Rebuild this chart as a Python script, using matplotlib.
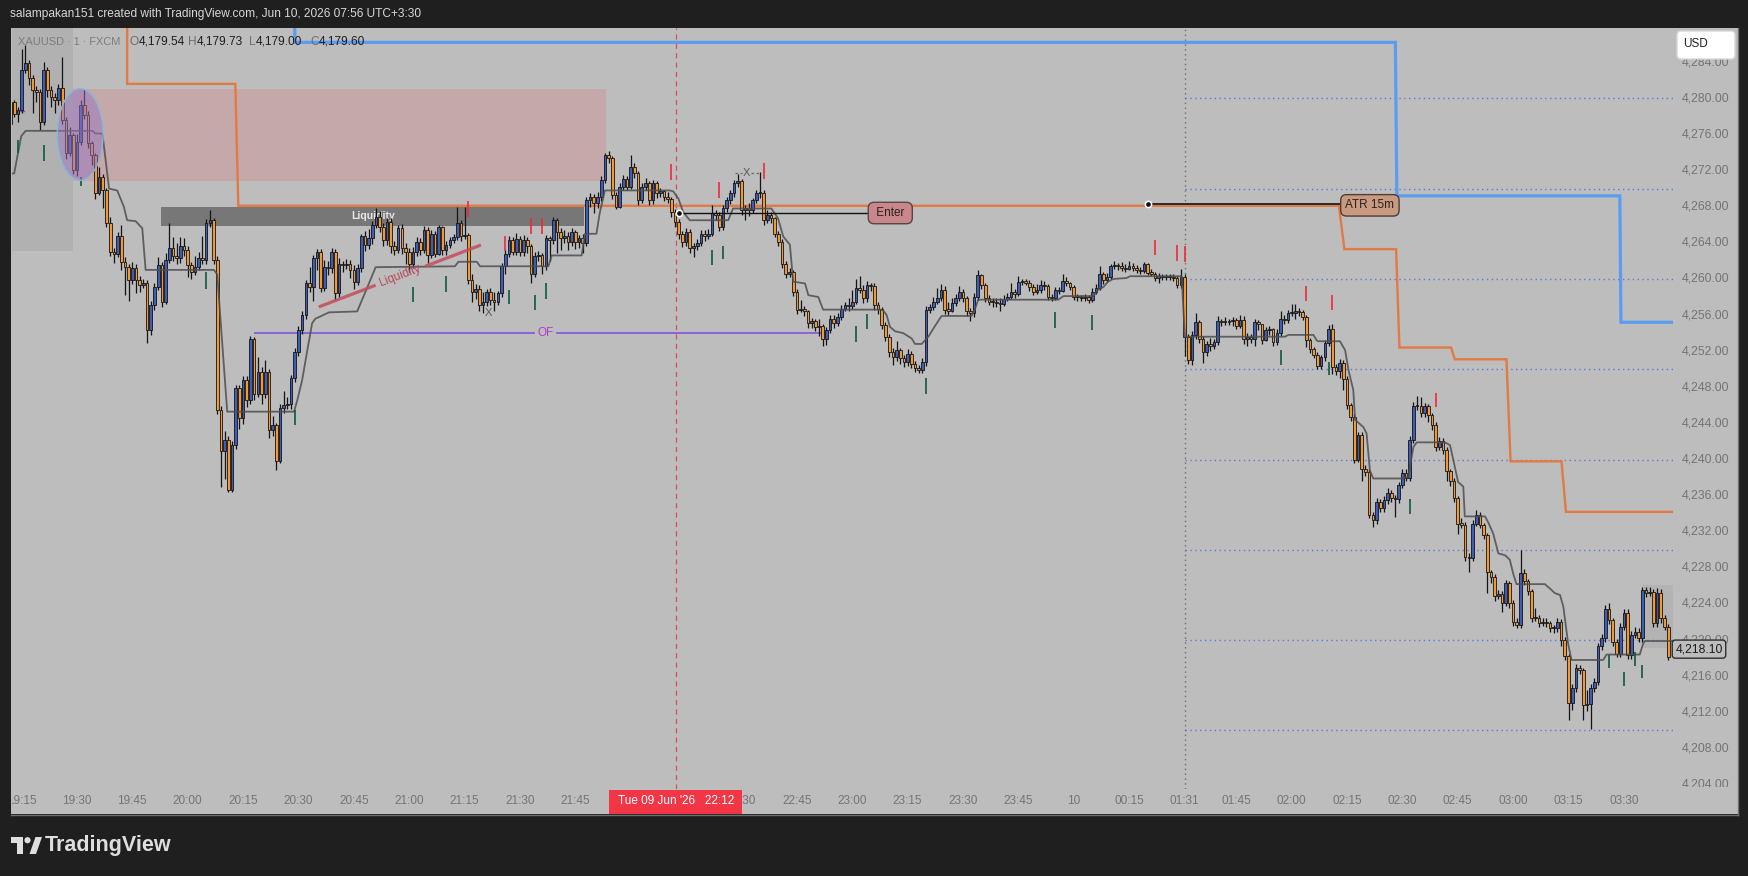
"""XAUUSD 1-minute chart (FXCM) as exported from TradingView, redrawn with matplotlib.

Bar index 0 is the 19:30 candle; the x axis is bar-indexed like TradingView,
so the 00:30-01:30 maintenance break is simply skipped.
Output: out.png (1749x876)
"""
import matplotlib

matplotlib.use("Agg")
import matplotlib.pyplot as plt
from matplotlib.lines import Line2D
from matplotlib.patches import Rectangle, Ellipse, Polygon, Circle, FancyBboxPatch

W, H, DPI = 1749, 876, 100
plt.rcParams["font.family"] = ["Liberation Sans", "DejaVu Sans"]

# ---------------------------------------------------------------- data
FIRST_BAR = -18
FIRST_OPEN = 4277.2
CLOSE = [
    4279.6, 4278.3, 4278.7, 4283.1, 4283.9, 4282.2, 4280.9, 4280.7, 4277.4, 4283.1,  # -18
    4280.9, 4280.2, 4279.8, 4281.1, 4277.6, 4273.9, 4275.9, 4272.1, 4275.2, 4279.3,  # -8
    4278.2, 4275.0, 4273.7, 4269.5, 4271.3, 4269.8, 4266.2, 4263.0, 4262.8, 4264.7,  # 2
    4261.9, 4261.3, 4259.9, 4261.2, 4259.9, 4259.3, 4259.6, 4254.3, 4257.1, 4259.1,  # 12
    4261.5, 4257.5, 4262.1, 4263.4, 4262.5, 4262.3, 4263.7, 4263.2, 4261.5, 4260.8,  # 22
    4261.3, 4262.3, 4262.1, 4266.2, 4266.5, 4262.1, 4245.5, 4240.9, 4242.2, 4236.6,  # 32
    4241.6, 4247.9, 4244.6, 4248.8, 4246.6, 4253.4, 4247.3, 4249.7, 4247.3, 4249.7,  # 42
    4243.3, 4243.8, 4239.8, 4245.7, 4246.0, 4246.1, 4249.0, 4251.9, 4254.3, 4256.0,  # 52
    4259.5, 4259.1, 4262.3, 4263.0, 4259.0, 4261.3, 4261.2, 4263.0, 4258.4, 4261.7,  # 62
    4261.5, 4261.7, 4261.0, 4259.7, 4261.2, 4264.7, 4263.8, 4264.5, 4266.0, 4266.9,  # 72
    4265.8, 4264.3, 4266.3, 4263.6, 4263.2, 4265.6, 4263.4, 4263.0, 4261.7, 4263.0,  # 82
    4264.1, 4263.2, 4265.4, 4262.6, 4265.0, 4262.8, 4265.7, 4263.2, 4263.8, 4264.3,  # 92
    4264.6, 4266.2, 4264.7, 4264.9, 4259.9, 4258.6, 4258.9, 4257.1, 4257.5, 4258.6,  # 102
    4257.7, 4257.5, 4258.4, 4261.4, 4262.8, 4264.3, 4263.0, 4264.4, 4263.0, 4264.3,  # 112
    4263.6, 4260.6, 4262.5, 4262.6, 4261.4, 4264.5, 4264.3, 4266.5, 4265.2, 4264.5,  # 122
    4264.8, 4264.1, 4265.2, 4264.1, 4264.5, 4264.0, 4268.7, 4269.1, 4268.4, 4269.1,  # 132
    4271.0, 4273.7, 4273.4, 4269.3, 4268.0, 4270.2, 4271.1, 4270.2, 4272.4, 4271.7,  # 142
    4268.7, 4270.2, 4270.6, 4268.7, 4270.6, 4269.5, 4269.7, 4269.1, 4268.9, 4267.4,  # 152
    4266.3, 4265.0, 4264.1, 4265.2, 4263.4, 4263.6, 4264.0, 4265.0, 4264.7, 4265.0,  # 162
    4267.3, 4267.1, 4265.8, 4267.8, 4268.7, 4269.5, 4270.6, 4270.8, 4267.6, 4267.8,  # 172
    4267.6, 4268.7, 4269.5, 4269.5, 4266.5, 4267.1, 4266.7, 4265.0, 4264.1, 4261.7,  # 182
    4260.6, 4260.8, 4258.6, 4256.6, 4256.7, 4256.4, 4255.1, 4255.3, 4254.7, 4254.8,  # 192
    4253.4, 4254.3, 4255.6, 4255.1, 4255.8, 4256.7, 4257.1, 4257.0, 4257.5, 4259.0,  # 202
    4258.8, 4257.9, 4259.3, 4259.2, 4257.1, 4256.7, 4254.9, 4253.6, 4251.9, 4251.4,  # 212
    4252.1, 4251.2, 4250.8, 4251.7, 4250.6, 4250.1, 4249.9, 4250.8, 4256.6, 4256.9,  # 222
    4257.5, 4257.9, 4258.8, 4256.6, 4256.5, 4257.3, 4257.9, 4258.6, 4257.9, 4256.4,  # 232
    4256.2, 4258.0, 4260.4, 4259.3, 4257.9, 4257.5, 4257.4, 4257.3, 4257.2, 4257.8,  # 242
    4258.0, 4258.6, 4258.3, 4259.7, 4259.7, 4259.6, 4259.1, 4258.6, 4258.8, 4259.3,  # 252
    4259.2, 4258.0, 4257.9, 4258.8, 4258.7, 4259.8, 4259.5, 4259.1, 4258.0, 4258.0,  # 262
    4257.9, 4258.0, 4257.7, 4258.6, 4259.0, 4260.6, 4259.9, 4260.2, 4261.4, 4261.4,  # 272
    4261.4, 4261.2, 4261.1, 4261.4, 4261.2, 4261.0, 4260.9, 4261.6, 4260.7, 4260.6,  # 282
    4260.1, 4260.3, 4260.2, 4260.2, 4260.2, 4260.1, 4259.3, 4260.2, 4253.6, 4251.0,  # 292
    4253.8, 4255.2, 4253.4, 4251.9, 4252.8, 4252.6, 4253.0, 4255.3, 4255.2, 4255.2,  # 302
    4255.3, 4255.4, 4254.8, 4255.5, 4253.3, 4253.6, 4253.3, 4255.2, 4255.0, 4253.2,  # 312
    4254.3, 4254.4, 4253.0, 4254.0, 4255.6, 4255.4, 4256.2, 4256.2, 4256.4, 4256.3,  # 322
    4255.8, 4253.2, 4252.2, 4251.6, 4250.4, 4251.3, 4252.9, 4254.5, 4250.2, 4249.8,  # 332
    4250.7, 4248.9, 4246.0, 4244.7, 4240.0, 4242.7, 4239.0, 4238.6, 4233.9, 4233.3,  # 342
    4235.3, 4234.6, 4235.5, 4236.3, 4235.7, 4235.6, 4237.2, 4238.5, 4238.0, 4242.2,  # 352
    4245.9, 4245.9, 4245.1, 4245.9, 4244.9, 4243.8, 4241.4, 4242.1, 4241.1, 4238.7,  # 362
    4237.6, 4235.7, 4232.9, 4232.8, 4229.2, 4229.1, 4232.9, 4233.9, 4232.8, 4231.6,  # 372
    4227.5, 4227.0, 4224.9, 4225.1, 4224.1, 4226.3, 4224.1, 4222.0, 4221.7, 4227.4,  # 382
    4226.5, 4225.4, 4222.4, 4222.5, 4221.9, 4222.0, 4221.9, 4221.3, 4221.3, 4222.0,  # 392
    4220.0, 4218.2, 4213.0, 4214.7, 4216.9, 4216.7, 4212.8, 4212.9, 4214.7, 4215.4,  # 402
    4219.3, 4220.2, 4223.5, 4222.2, 4219.8, 4218.5, 4221.5, 4223.0, 4218.3, 4220.6,  # 412
    4220.9, 4220.2, 4225.5, 4225.2, 4225.3, 4221.9, 4225.2, 4222.4, 4221.5, 4218.1,  # 422
]
HIGH = [
    4280.4, 4279.8, 4279.0, 4285.5, 4285.9, 4284.3, 4282.6, 4281.4, 4281.0, 4284.0,
    4283.5, 4281.4, 4280.6, 4281.6, 4284.6, 4277.9, 4276.8, 4276.2, 4276.0, 4279.8,
    4281.0, 4278.6, 4275.3, 4273.9, 4272.4, 4271.6, 4270.1, 4266.9, 4263.4, 4265.2,
    4266.0, 4262.4, 4261.7, 4261.9, 4261.6, 4260.3, 4260.0, 4259.9, 4257.6, 4259.5,
    4262.4, 4261.9, 4262.9, 4266.2, 4264.6, 4264.0, 4264.6, 4264.5, 4263.6, 4261.9,
    4262.5, 4263.0, 4264.7, 4266.6, 4267.6, 4266.8, 4262.5, 4245.9, 4243.2, 4242.6,
    4242.0, 4248.3, 4248.2, 4249.2, 4249.3, 4253.7, 4253.6, 4251.4, 4250.2, 4251.0,
    4250.0, 4244.8, 4244.0, 4246.2, 4247.6, 4246.9, 4249.4, 4252.3, 4254.8, 4256.5,
    4259.9, 4261.3, 4262.7, 4263.3, 4263.3, 4262.1, 4262.0, 4263.4, 4263.3, 4262.3,
    4262.0, 4262.2, 4262.1, 4261.5, 4261.6, 4265.0, 4265.3, 4265.5, 4266.4, 4267.8,
    4267.5, 4266.2, 4266.7, 4266.8, 4264.2, 4266.0, 4266.1, 4264.0, 4263.4, 4263.5,
    4264.6, 4264.5, 4265.9, 4265.8, 4265.4, 4265.3, 4266.0, 4265.9, 4264.2, 4264.6,
    4265.0, 4268.0, 4266.5, 4268.0, 4265.1, 4260.5, 4259.4, 4259.3, 4258.6, 4258.9,
    4259.0, 4258.5, 4258.7, 4261.8, 4263.2, 4264.7, 4264.6, 4265.1, 4264.8, 4264.9,
    4264.6, 4263.9, 4263.0, 4263.1, 4262.9, 4264.9, 4264.8, 4266.9, 4266.8, 4265.6,
    4265.4, 4265.2, 4265.6, 4265.4, 4264.9, 4265.0, 4269.1, 4269.5, 4269.4, 4269.6,
    4271.4, 4274.0, 4274.2, 4273.6, 4269.6, 4270.6, 4271.5, 4271.4, 4273.7, 4272.8,
    4272.0, 4270.6, 4271.2, 4270.9, 4271.0, 4270.9, 4270.1, 4269.9, 4269.6, 4269.1,
    4267.7, 4266.6, 4265.3, 4265.6, 4265.5, 4264.0, 4264.4, 4265.4, 4265.4, 4265.5,
    4268.2, 4267.6, 4267.4, 4268.2, 4269.1, 4269.9, 4271.0, 4271.6, 4271.1, 4268.2,
    4268.4, 4269.0, 4269.9, 4271.8, 4269.9, 4267.6, 4267.4, 4266.9, 4265.3, 4264.4,
    4262.0, 4261.2, 4261.0, 4258.9, 4257.7, 4257.0, 4256.6, 4255.7, 4255.6, 4255.6,
    4255.0, 4254.7, 4256.0, 4256.0, 4256.2, 4257.1, 4257.5, 4257.9, 4258.8, 4260.0,
    4260.3, 4259.3, 4259.8, 4259.6, 4259.5, 4257.4, 4256.9, 4255.2, 4253.9, 4252.4,
    4253.1, 4252.4, 4251.6, 4252.2, 4252.0, 4250.9, 4250.5, 4251.2, 4257.0, 4257.2,
    4258.0, 4259.0, 4259.4, 4259.2, 4257.4, 4257.9, 4258.3, 4259.2, 4258.9, 4258.1,
    4256.8, 4258.4, 4261.0, 4260.6, 4259.6, 4258.2, 4257.9, 4257.9, 4257.9, 4258.2,
    4258.4, 4259.5, 4258.9, 4260.3, 4260.0, 4260.0, 4259.9, 4259.4, 4259.4, 4259.9,
    4259.8, 4259.4, 4258.3, 4259.1, 4259.1, 4260.5, 4260.2, 4259.7, 4259.3, 4258.3,
    4258.2, 4258.3, 4258.2, 4259.0, 4259.4, 4261.4, 4260.8, 4260.7, 4261.7, 4262.0,
    4261.8, 4261.9, 4261.6, 4262.0, 4261.8, 4261.5, 4261.3, 4261.9, 4261.8, 4261.1,
    4260.8, 4260.7, 4260.6, 4260.6, 4260.5, 4260.5, 4260.3, 4261.1, 4260.5, 4253.9,
    4254.2, 4256.2, 4255.5, 4253.7, 4253.1, 4253.5, 4253.4, 4255.9, 4255.6, 4255.8,
    4255.6, 4255.8, 4255.7, 4256.0, 4255.9, 4254.0, 4253.9, 4255.6, 4255.5, 4254.7,
    4254.7, 4254.8, 4254.6, 4254.4, 4256.4, 4256.0, 4256.6, 4257.2, 4257.2, 4256.8,
    4256.6, 4256.0, 4253.5, 4252.5, 4251.9, 4251.6, 4253.2, 4254.9, 4255.0, 4250.6,
    4251.1, 4251.0, 4249.2, 4246.3, 4245.0, 4243.1, 4243.0, 4239.4, 4238.9, 4234.2,
    4235.7, 4235.6, 4236.0, 4236.8, 4236.6, 4236.1, 4237.5, 4238.9, 4238.9, 4242.6,
    4246.4, 4247.0, 4246.9, 4246.3, 4246.2, 4245.2, 4244.1, 4242.5, 4242.4, 4241.4,
    4239.0, 4237.9, 4236.0, 4233.5, 4233.1, 4229.6, 4233.3, 4234.4, 4234.2, 4233.0,
    4231.9, 4227.8, 4227.3, 4225.5, 4225.4, 4226.7, 4226.6, 4224.4, 4222.4, 4230.0,
    4227.9, 4226.8, 4225.7, 4223.6, 4222.8, 4222.5, 4222.4, 4222.1, 4221.7, 4222.4,
    4222.3, 4220.3, 4218.5, 4215.1, 4217.3, 4217.2, 4216.9, 4214.5, 4215.1, 4215.8,
    4219.7, 4220.7, 4223.9, 4224.1, 4222.5, 4220.1, 4221.9, 4223.5, 4223.4, 4221.0,
    4221.4, 4221.3, 4225.9, 4225.9, 4225.9, 4225.7, 4225.8, 4225.7, 4222.8, 4221.8,
]
LOW = [
    4276.8, 4277.9, 4277.4, 4278.4, 4282.8, 4281.5, 4278.4, 4279.6, 4276.5, 4277.0,
    4280.2, 4279.0, 4278.4, 4279.3, 4277.2, 4273.3, 4273.6, 4271.6, 4271.4, 4274.8,
    4277.7, 4274.5, 4272.6, 4268.9, 4269.3, 4267.8, 4265.8, 4262.5, 4261.8, 4262.4,
    4261.0, 4258.2, 4257.6, 4259.4, 4258.4, 4258.6, 4259.0, 4252.9, 4253.8, 4256.6,
    4258.8, 4256.9, 4257.2, 4261.8, 4262.0, 4261.6, 4261.8, 4262.5, 4260.2, 4260.0,
    4260.4, 4261.0, 4261.7, 4261.6, 4265.8, 4261.6, 4245.0, 4237.0, 4237.8, 4236.4,
    4236.4, 4241.2, 4243.4, 4243.9, 4245.8, 4246.2, 4246.6, 4246.9, 4246.2, 4246.8,
    4242.4, 4242.6, 4238.8, 4239.6, 4245.2, 4245.6, 4245.6, 4248.6, 4251.5, 4253.9,
    4255.6, 4258.5, 4257.6, 4261.0, 4258.5, 4258.7, 4260.4, 4260.7, 4257.7, 4258.0,
    4260.8, 4261.1, 4260.1, 4258.9, 4259.3, 4260.8, 4263.1, 4263.3, 4263.9, 4265.6,
    4265.2, 4263.6, 4263.8, 4262.9, 4262.7, 4262.9, 4262.8, 4261.7, 4260.8, 4261.2,
    4262.5, 4262.6, 4262.9, 4261.8, 4262.3, 4262.4, 4262.6, 4262.6, 4262.7, 4263.4,
    4264.0, 4264.3, 4264.2, 4264.4, 4259.4, 4257.5, 4257.8, 4256.4, 4256.2, 4257.0,
    4257.1, 4256.4, 4257.1, 4258.0, 4260.6, 4262.4, 4262.6, 4262.7, 4262.5, 4262.5,
    4262.9, 4259.5, 4260.2, 4262.0, 4260.5, 4261.0, 4262.0, 4263.9, 4262.9, 4263.2,
    4264.0, 4263.2, 4263.7, 4263.3, 4263.4, 4262.9, 4263.7, 4268.0, 4267.3, 4267.8,
    4268.6, 4270.6, 4272.8, 4268.8, 4267.7, 4267.8, 4269.8, 4269.8, 4270.0, 4271.2,
    4268.2, 4268.4, 4269.8, 4268.2, 4268.3, 4269.0, 4269.1, 4268.6, 4268.4, 4266.9,
    4265.8, 4264.4, 4263.5, 4263.6, 4262.9, 4262.4, 4263.2, 4263.6, 4264.2, 4264.4,
    4264.7, 4266.5, 4265.3, 4265.4, 4267.4, 4268.3, 4269.1, 4270.2, 4267.1, 4266.5,
    4267.0, 4267.3, 4268.4, 4269.0, 4266.0, 4266.2, 4266.2, 4264.6, 4263.6, 4261.2,
    4260.1, 4260.2, 4258.1, 4256.1, 4256.3, 4255.9, 4254.6, 4254.6, 4254.2, 4253.7,
    4252.6, 4252.7, 4254.0, 4254.6, 4254.8, 4255.5, 4256.4, 4256.5, 4256.7, 4257.2,
    4258.4, 4257.3, 4257.4, 4258.7, 4256.6, 4256.1, 4254.4, 4253.1, 4251.4, 4250.5,
    4250.9, 4250.6, 4250.2, 4250.4, 4250.1, 4249.7, 4249.6, 4249.6, 4250.4, 4256.2,
    4256.6, 4257.2, 4257.6, 4256.1, 4256.0, 4256.3, 4257.0, 4257.6, 4257.4, 4255.9,
    4255.3, 4255.8, 4257.7, 4258.9, 4257.4, 4257.1, 4256.9, 4256.9, 4256.5, 4257.0,
    4257.6, 4257.8, 4257.9, 4258.1, 4259.3, 4259.3, 4258.7, 4258.2, 4258.3, 4258.4,
    4258.8, 4257.7, 4257.6, 4257.7, 4258.3, 4258.5, 4259.2, 4258.8, 4257.7, 4257.6,
    4257.6, 4257.6, 4257.3, 4257.5, 4258.3, 4258.8, 4259.4, 4259.7, 4260.0, 4261.1,
    4261.0, 4260.9, 4260.8, 4261.0, 4260.9, 4260.7, 4260.6, 4260.7, 4260.4, 4260.3,
    4259.8, 4259.6, 4259.9, 4259.9, 4259.9, 4259.8, 4259.0, 4259.0, 4251.5, 4250.6,
    4250.5, 4253.4, 4252.9, 4250.7, 4251.5, 4252.0, 4252.2, 4252.7, 4254.8, 4254.9,
    4254.9, 4254.8, 4254.4, 4254.6, 4252.8, 4252.6, 4252.9, 4252.6, 4254.3, 4252.8,
    4253.1, 4253.8, 4252.6, 4252.7, 4253.7, 4255.0, 4255.1, 4255.9, 4255.6, 4255.9,
    4255.4, 4252.5, 4251.8, 4251.2, 4250.0, 4250.0, 4250.9, 4252.6, 4249.5, 4249.4,
    4249.0, 4247.7, 4245.6, 4244.3, 4239.6, 4239.7, 4237.6, 4238.2, 4233.5, 4232.5,
    4232.9, 4234.2, 4234.2, 4235.1, 4235.3, 4233.6, 4235.2, 4236.8, 4237.6, 4237.6,
    4241.8, 4245.5, 4244.7, 4244.7, 4244.1, 4243.3, 4240.9, 4241.0, 4240.6, 4237.6,
    4237.1, 4235.3, 4231.8, 4232.4, 4228.8, 4227.5, 4228.8, 4232.6, 4232.4, 4231.2,
    4225.2, 4226.3, 4224.3, 4224.6, 4223.1, 4223.8, 4223.6, 4221.6, 4221.3, 4221.3,
    4226.1, 4225.0, 4222.0, 4222.1, 4221.5, 4221.6, 4221.5, 4220.9, 4220.8, 4220.9,
    4219.4, 4217.8, 4211.1, 4212.3, 4214.3, 4216.3, 4211.2, 4212.2, 4210.2, 4214.3,
    4215.0, 4218.9, 4219.8, 4221.8, 4219.4, 4218.1, 4218.1, 4221.1, 4217.9, 4217.9,
    4220.2, 4219.8, 4219.8, 4224.8, 4224.9, 4221.5, 4221.5, 4221.9, 4221.1, 4217.8,
]

# trailing stop line (grey), vertices as (bar, price)
TRAIL_X = [-18.2, -17.0, -15.1, -13.9, 4.2, 5.0, 6.9, 8.7, 10.9, 12.7, 13.6, 15.9, 17.7, 18.6,
           37.1, 38.0, 40.7, 58.8, 59.7, 61.0, 62.4, 63.7, 64.6, 68.3, 75.9, 79.5, 80.9,
           102.4, 103.3, 108.3, 109.2, 127.7, 128.6, 136.7, 137.6, 140.7, 141.6, 143.0,
           160.6, 161.5, 162.9, 164.2, 166.0, 176.4, 177.7, 188.1, 189.9, 191.3, 193.1,
           194.0, 197.2, 198.1, 200.8, 202.1, 217.5, 218.4, 219.3, 220.2, 221.6, 223.8,
           226.1, 227.0, 228.8, 230.6, 232.9, 234.2, 242.3, 243.2, 244.1, 265.8, 267.2,
           275.3, 276.6, 278.0, 279.3, 280.7, 284.3, 285.2, 299.2, 300.1, 327.2, 328.1,
           334.9, 335.8, 336.2, 342.1, 343.5, 344.4, 345.7, 346.2, 348.4, 349.3, 350.2,
           351.1, 358.8, 360.6, 362.0, 362.9, 370.5, 371.9, 373.2, 374.1, 375.5, 375.9,
           381.4, 382.3, 383.6, 385.0, 386.8, 388.1, 389.0, 389.9, 397.6, 399.0, 400.3,
           401.7, 402.6, 403.9, 404.8, 413.4, 414.3, 423.3, 424.2, 424.7, 432.3]
TRAIL_Y = [4271.6, 4271.7, 4275.8, 4276.4, 4276.4, 4276.1, 4276.1, 4270.0, 4269.8, 4268.0,
           4266.5, 4266.4, 4265.6, 4261.0, 4261.0, 4260.5, 4245.3, 4245.3, 4246.6, 4248.8,
           4252.1, 4255.1, 4255.6, 4256.3, 4256.4, 4259.9, 4261.3,
           4261.4, 4261.9, 4261.9, 4261.4, 4261.4, 4262.6, 4262.6, 4265.0, 4265.0, 4267.3,
           4269.8, 4269.8, 4269.7, 4268.9, 4267.4, 4266.5, 4266.5, 4267.8, 4267.8, 4266.7,
           4264.7, 4263.8, 4259.7, 4259.5, 4258.2, 4258.0, 4256.6, 4256.6, 4256.5, 4256.0,
           4254.7, 4254.2, 4254.0, 4253.4, 4252.8, 4252.8, 4253.6, 4255.1, 4255.9, 4255.9,
           4256.6, 4257.7, 4257.7, 4258.1, 4258.1, 4258.8, 4259.1, 4259.7, 4260.0, 4260.1,
           4260.3, 4260.3, 4253.6, 4253.6, 4253.8, 4253.8, 4253.2, 4253.1, 4253.1, 4252.1,
           4249.9, 4247.7, 4244.4, 4243.6, 4242.9, 4238.8, 4237.9, 4237.9, 4238.1, 4241.4,
           4241.9, 4241.9, 4241.6, 4239.2, 4237.5, 4237.0, 4233.7, 4233.7, 4233.0, 4231.8,
           4229.6, 4229.4, 4228.9, 4227.4, 4226.2, 4226.2, 4225.7, 4225.2, 4225.0, 4223.7,
           4219.6, 4217.8, 4217.8, 4218.4, 4218.4, 4219.6, 4219.9, 4219.9]

# orange (stop) and blue (target) step lines
ORANGE_X = [13.6, 13.6, 42.9, 43.7, 341.8, 343.3, 357.3, 358.2, 372.2, 373.2, 387.2, 388.3,
            402.1, 403.3, 432.3]
ORANGE_Y = [4288.5, 4281.6, 4281.6, 4268.1, 4268.1, 4263.3, 4263.3, 4252.4, 4252.4, 4251.1,
            4251.1, 4239.8, 4239.8, 4234.2, 4234.2]
BLUE_X = [59.0, 59.0, 357.1, 357.5, 417.9, 418.2, 432.3]
BLUE_Y = [4288.5, 4286.2, 4286.2, 4269.2, 4269.2, 4255.2, 4255.2]

# signal ticks: (bar, bottom price, top price)
RED_TICKS = [(106, 4266.9, 4268.6), (116, 4263.1, 4264.7), (123, 4265.0, 4266.7),
             (126, 4265.0, 4266.7), (161, 4271.0, 4272.7), (174, 4269.0, 4270.7),
             (186, 4271.1, 4272.8), (292, 4262.7, 4264.3), (298, 4262.0, 4263.8),
             (300, 4261.9, 4263.6), (333, 4257.6, 4259.2), (340, 4256.6, 4258.2),
             (368, 4245.8, 4247.4)]
GREEN_TICKS = [(-16, 4273.9, 4275.4), (-9, 4273.1, 4274.8), (1, 4270.3, 4271.3),
               (35, 4258.9, 4260.8), (59, 4243.8, 4245.5), (91, 4257.5, 4259.1),
               (100, 4258.6, 4260.3), (117, 4257.2, 4258.8), (124, 4256.6, 4258.2),
               (127, 4257.8, 4259.5), (172, 4261.5, 4263.2), (175, 4262.2, 4263.7),
               (211, 4253.0, 4254.8), (214, 4254.4, 4256.1), (230, 4247.3, 4249.0),
               (265, 4254.6, 4256.3), (275, 4254.3, 4256.0), (326, 4250.5, 4252.1),
               (339, 4249.4, 4250.8), (361, 4234.0, 4235.6), (415, 4216.9, 4218.4),
               (419, 4214.9, 4216.5), (422, 4217.1, 4218.7), (424, 4215.8, 4217.2)]

# zones / drawings
SESSION_BOX = (-18.2, -1.1, 4263.1)          # bar from, bar to, price bottom (to top)
SUPPLY_ZONE = (-1.2, 143.3, 4270.9, 4281.0)  # bar from, bar to, price low, price high
LIQ_BOX = (22.9, 137.4, 4265.9, 4268.0)
LATE_BOX = (423.8, 432.3, 4219.1, 4226.1)
ELLIPSE = (0.87, 4276.0, 12.4, 10.15)        # centre bar, centre price, width, height
LIQ_LINE = [(65.5, 4256.9), (109.4, 4263.75)]
LIQ_GAP = (80.9, 94.3)
OF_LEVEL, OF_FROM, OF_TO, OF_GAP = 4254.0, 48.3, 203.5, (123.9, 130.1)
ENTER_FROM, ENTER_TO, ENTER_PRICE, ENTER_LABEL_BAR = 163.0, 214.2, 4267.3, 220.3
ATR_FROM, ATR_TO, ATR_PRICE, ATR_LABEL_BAR = 290.2, 342.2, 4268.3, 350.2
X_MARKS = [(111.4, 4256.2), (181.4, 4271.7)]
CROSS_BAR = 162.2
SPLIT_BAR = 300
BLUE_LEVELS = [4280, 4270, 4260, 4250, 4240, 4230, 4220, 4210]

PRICE_TICKS = list(range(4284, 4203, -4))
TIME_TICKS = [-15, 0, 15, 30, 45, 60, 75, 90, 105, 120, 135, 180, 195, 210, 225,
              240, 255, 270, 285, 300, 314, 329, 344, 359, 374, 389, 404, 419]
TIME_LABELS = ["19:15", "19:30", "19:45", "20:00", "20:15", "20:30", "20:45", "21:00",
               "21:15", "21:30", "21:45", "22:30", "22:45", "23:00",
               "23:15", "23:30", "23:45", "10", "00:15", "01:31", "01:45", "02:00",
               "02:15", "02:30", "02:45", "03:00", "03:15", "03:30"]
CROSS_LABEL = "Tue 09 Jun '26   22:12"
HEADER = "salampakan151 created with TradingView.com, Jun 10, 2026 07:56 UTC+3:30"
LEGEND = [("O", "4,179.54"), ("H", "4,179.73"), ("L", "4,179.00"), ("C", "4,179.60")]

# ---------------------------------------------------------------- style
OUTER = "#1f1f1f"
BG = "#bdbdbd"
UP = "#3d5db6"
DOWN = "#f3992f"
WICK = "#141414"
AXIS_TXT = "#747474"

# pixel frame of the chart (from the top-left corner of the image)
PANE_L, PANE_R, PANE_T, PANE_B = 12, 1673, 28, 789
SCALE_R, TIME_B = 1738, 814
PX_PER_BAR = 3.692


def fx(x):
    return x / W


def fy(y):
    return 1 - y / H


def main() -> None:
    fig = plt.figure(figsize=(W / DPI, H / DPI), dpi=DPI, facecolor=OUTER)
    fig.add_artist(Rectangle((fx(PANE_L - 1), fy(TIME_B)), fx(SCALE_R) - fx(PANE_L - 1),
                             fy(PANE_T) - fy(TIME_B), transform=fig.transFigure, fc=BG,
                             ec="none", zorder=0))
    fig.add_artist(Line2D([fx(SCALE_R)] * 2, [fy(PANE_T), fy(TIME_B + 1)],
                          transform=fig.transFigure, color="#707070", lw=1))
    fig.add_artist(Line2D([fx(PANE_L - 1), fx(SCALE_R)], [fy(TIME_B + 1)] * 2,
                          transform=fig.transFigure, color="#707070", lw=1))

    # price pane: x = bar index (3.692 px per bar), y = price (9.03 px per dollar)
    ax = fig.add_axes([fx(PANE_L), fy(PANE_B), fx(PANE_R) - fx(PANE_L),
                       fy(PANE_T) - fy(PANE_B)])
    ax.set_xlim(432.3 - (PANE_R - PANE_L) / PX_PER_BAR, 432.3)
    ax.set_ylim(4203.51, 4287.79)
    ax.set_axis_off()

    # zones
    b0, b1, pb = SESSION_BOX
    ax.add_patch(Rectangle((b0, pb), b1 - b0, 30, fc="#b1b1b1", ec="none", zorder=1))
    b0, b1, p0, p1 = SUPPLY_ZONE
    ax.add_patch(Rectangle((b0, p0), b1 - b0, p1 - p0, fc="#c5a8a9", ec="none", zorder=1))
    b0, b1, p0, p1 = LATE_BOX
    ax.add_patch(Rectangle((b0, p0), b1 - b0, p1 - p0, fc="#b3b3b3", ec="none", zorder=1))
    b0, b1, p0, p1 = LIQ_BOX
    ax.add_patch(Rectangle((b0, p0), b1 - b0, p1 - p0, fc="#777777", ec="none", zorder=2))
    ax.text((b0 + b1) / 2, (p0 + p1) / 2, "Liquidity", color="#e8e8e8", fontsize=7.5,
            fontweight="bold", ha="center", va="center", zorder=2.1)

    # guide lines
    ax.axvline(SPLIT_BAR, color="#6c6c6c", lw=1, ls=(0, (1, 2.5)), zorder=2)
    for lv in BLUE_LEVELS:
        ax.plot([SPLIT_BAR, 432.3], [lv, lv], color="#5a78dc", lw=1, ls=(0, (1, 2.5)),
                zorder=2)
    ax.axvline(CROSS_BAR, color="#d84a5c", lw=0.9, ls=(0, (4, 3.5)), zorder=2)

    ax.plot(ORANGE_X, ORANGE_Y, color="#e27a44", lw=1.7, zorder=3, solid_joinstyle="miter")
    ax.plot(BLUE_X, BLUE_Y, color="#5b9bf0", lw=2.3, zorder=3, solid_joinstyle="miter")
    ax.plot([-17.5, -14.3], [4278.6, 4278.6], color="#b040c0", lw=1, zorder=3)

    # OF level
    ax.plot([OF_FROM, OF_GAP[0]], [OF_LEVEL] * 2, color="#8a62d6", lw=1.4, zorder=3)
    ax.plot([OF_GAP[1], OF_TO], [OF_LEVEL] * 2, color="#8a62d6", lw=1.4, zorder=3)
    ax.text(sum(OF_GAP) / 2, OF_LEVEL, "OF", color="#b03cc8", fontsize=8.5, ha="center",
            va="center", zorder=3)

    # candles
    n = len(CLOSE)
    xs = list(range(FIRST_BAR, FIRST_BAR + n))
    opens = [FIRST_OPEN] + CLOSE[:-1]
    highs = [max(h, o, c) for h, o, c in zip(HIGH, opens, CLOSE)]
    lows = [min(lo, o, c) for lo, o, c in zip(LOW, opens, CLOSE)]
    bottoms = [min(o, c) for o, c in zip(opens, CLOSE)]
    heights = [max(abs(c - o), 0.12) for o, c in zip(opens, CLOSE)]
    cols = [UP if c >= o else DOWN for o, c in zip(opens, CLOSE)]
    ax.vlines(xs, lows, highs, color=WICK, lw=0.9, zorder=4)
    ax.bar(xs, heights, width=0.72, bottom=bottoms, color=cols, edgecolor=WICK,
           linewidth=0.6, zorder=4.1)

    ax.plot(TRAIL_X, TRAIL_Y, color="#4e4e4e", lw=1.3, alpha=0.85, zorder=5)

    ax.vlines([t[0] for t in RED_TICKS], [t[1] for t in RED_TICKS], [t[2] for t in RED_TICKS],
              color="#f0283c", lw=1.2, zorder=5)
    ax.vlines([t[0] for t in GREEN_TICKS], [t[1] for t in GREEN_TICKS],
              [t[2] for t in GREEN_TICKS], color="#0d5a3c", lw=1.2, zorder=5)

    # drawings
    (lx0, ly0), (lx1, ly1) = LIQ_LINE
    slope = (ly1 - ly0) / (lx1 - lx0)
    for a, b in [(lx0, LIQ_GAP[0]), (LIQ_GAP[1], lx1)]:
        ax.plot([a, b], [ly0 + slope * (a - lx0), ly0 + slope * (b - lx0)], color="#c44c5c",
                lw=2.3, alpha=0.85, solid_capstyle="butt", zorder=5.5)
    mid = sum(LIQ_GAP) / 2
    ax.text(mid, ly0 + slope * (mid - lx0), "Liquidity", color="#b8485a", fontsize=8.5,
            rotation=20.9, rotation_mode="anchor", ha="center", va="center", zorder=5.5)

    ax.add_patch(Ellipse(ELLIPSE[:2], ELLIPSE[2], ELLIPSE[3], fc="#9a76c2", alpha=0.5,
                         ec="none", zorder=6))
    ax.add_patch(Ellipse(ELLIPSE[:2], ELLIPSE[2], ELLIPSE[3], fc="none", ec="#86b8dc",
                         lw=1, zorder=6))

    for bx, py in X_MARKS:
        ax.text(bx, py, "X", color="#585858", fontsize=8, ha="center", va="center", zorder=6)
    bx, py = X_MARKS[1]
    ax.plot([bx - 3.2, bx - 1.2], [py, py], color="#666666", lw=0.9, ls=(0, (2, 2)), zorder=6)
    ax.plot([bx + 1.2, bx + 3.6], [py, py], color="#666666", lw=0.9, ls=(0, (2, 2)), zorder=6)

    ax.plot([ENTER_FROM, ENTER_TO], [ENTER_PRICE] * 2, color="#111111", lw=1, zorder=6)
    ax.plot([ATR_FROM, ATR_TO], [ATR_PRICE] * 2, color="#2a2a2a", lw=1.4, zorder=6)
    ax.plot([ENTER_FROM, ATR_FROM], [ENTER_PRICE, ATR_PRICE], "o", ms=4.5, mfc="#111111",
            mec="white", mew=1.1, zorder=7)
    ax.text(ENTER_LABEL_BAR, ENTER_PRICE, " Enter ", fontsize=8.5, color="#2a2020",
            ha="center", va="center", zorder=7,
            bbox=dict(boxstyle="round,pad=0.4,rounding_size=0.5", fc="#c9878c",
                      ec="#5a4444", lw=1))
    ax.text(ATR_LABEL_BAR, ATR_PRICE - 0.15, "ATR 15m", fontsize=8.5, color="#2a2020",
            ha="center", va="center", zorder=7,
            bbox=dict(boxstyle="round,pad=0.4,rounding_size=0.5", fc="#c99a80",
                      ec="#4c3e36", lw=1))

    # price scale (clipped just above the time scale, like the original)
    pax = fig.add_axes([fx(PANE_R), fy(787), fx(SCALE_R) - fx(PANE_R),
                        fy(PANE_T) - fy(787)])
    pax.set_xlim(0, SCALE_R - PANE_R)
    pax.set_ylim(4203.73, 4287.79)
    pax.set_axis_off()
    for p in PRICE_TICKS:
        pax.text(9, p, f"{p:,.2f}", color=AXIS_TXT, fontsize=8.8, ha="left", va="center",
                 clip_on=True)
    pax.text(2.3, CLOSE[-1] + 0.9, f"{CLOSE[-1]:,.2f}", color="#1c1c1c", fontsize=8.8,
             ha="left", va="center", zorder=5,
             bbox=dict(boxstyle="round,pad=0.25,rounding_size=0.25", fc=BG, ec="#2e2e2e",
                       lw=1))

    # time scale
    tax = fig.add_axes([fx(PANE_L), fy(TIME_B), fx(PANE_R) - fx(PANE_L),
                        fy(PANE_B) - fy(TIME_B)])
    tax.set_xlim(ax.get_xlim())
    tax.set_ylim(0, 1)
    tax.set_axis_off()
    for t, lab in zip(TIME_TICKS, TIME_LABELS):
        tax.text(t, 0.5, lab, color=AXIS_TXT, fontsize=8.5, ha="center", va="center",
                 clip_on=True)
    tax.add_patch(Rectangle((CROSS_BAR - 18.0, 0.02), 36.0, 0.96, fc="#f23645", ec="none",
                            zorder=3))
    tax.text(CROSS_BAR, 0.5, CROSS_LABEL, color="white", fontsize=8.5, ha="center",
             va="center", zorder=4)

    # overlay in pixel coordinates for the UI chrome
    ov = fig.add_axes([0, 0, 1, 1], zorder=10)
    ov.set_xlim(0, W)
    ov.set_ylim(H, 0)
    ov.set_axis_off()
    ov.patch.set_alpha(0)
    ov.text(10, 14, HEADER, color="#d8d8d8", fontsize=8.6, ha="left", va="center")
    ov.text(18, 42, "XAUUSD · 1 · FXCM", color="#7c7c7c", fontsize=7.9, ha="left",
            va="center")
    for (letter, val), x in zip(LEGEND, [130, 188, 249, 310]):
        t = ov.text(x, 42, letter, color="#6e6e6e", fontsize=8.6, ha="left", va="center")
        ov.annotate(val, xy=(1, 0.5), xycoords=t, color="#1e1e1e", fontsize=8.6,
                    ha="left", va="center")
    ov.add_patch(FancyBboxPatch((1677, 31), 58, 28, boxstyle="round,pad=0,rounding_size=4",
                                fc="white", ec="#d6d6d6", lw=1))
    ov.text(1683, 44, "USD", color="#222222", fontsize=8.5, ha="left", va="center")

    # TradingView logo
    logo = "#dedede"
    ov.add_patch(Polygon([(11, 837), (23, 837), (23, 854), (17, 854), (17, 843), (11, 843)],
                         closed=True, fc=logo, ec="none"))
    ov.add_patch(Circle((27.5, 840.2), 3.1, fc=logo, ec="none"))
    ov.add_patch(Polygon([(29.5, 854), (35.5, 837), (42, 837), (36, 854)], closed=True,
                         fc=logo, ec="none"))
    ov.text(45, 846, "TradingView", color=logo, fontsize=15.5, fontweight="bold",
            ha="left", va="center")

    fig.savefig("out.png", dpi=DPI, facecolor=OUTER)


if __name__ == "__main__":
    main()
